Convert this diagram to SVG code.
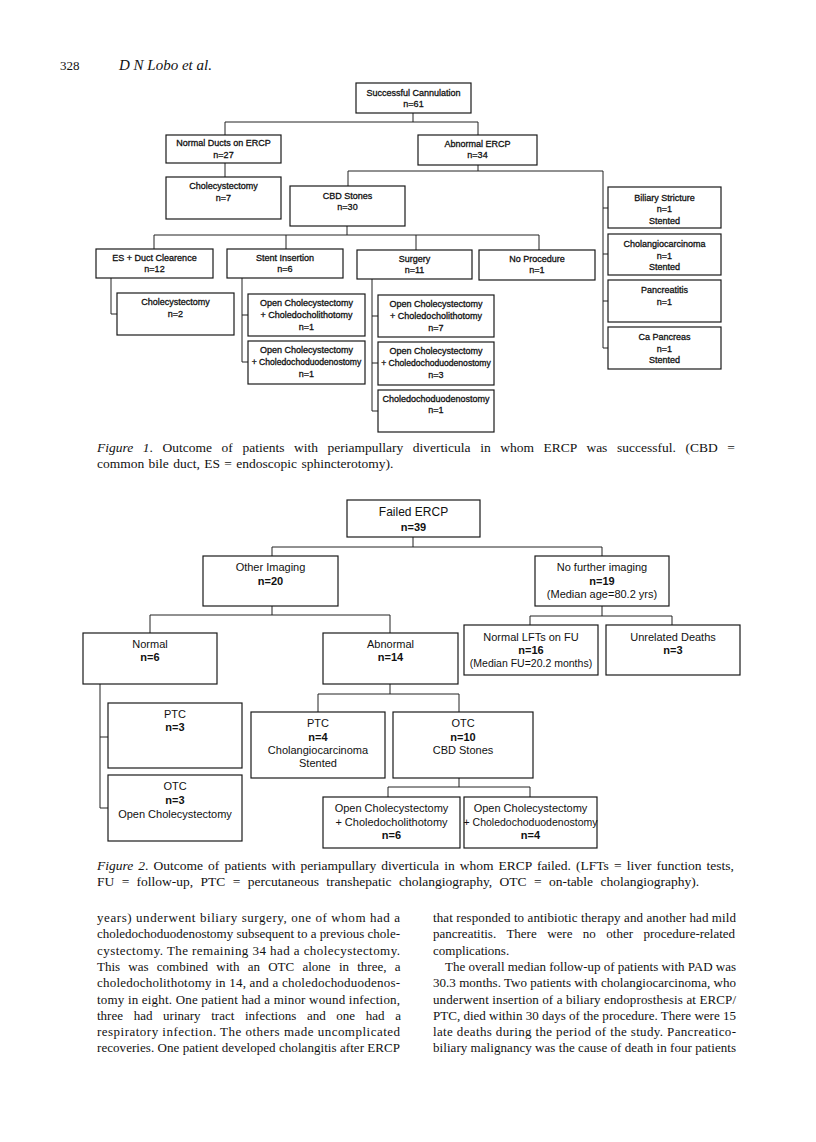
<svg xmlns="http://www.w3.org/2000/svg" width="816" height="1142" viewBox="0 0 816 1142">
<style>
.bx{fill:#fff;stroke:#1a1a1a;stroke-width:1.2}
.cn{fill:none;stroke:#222;stroke-width:1}
.t1{font-family:"Liberation Sans",Arial,sans-serif;font-size:9px;text-anchor:middle;fill:#111;stroke:#111;stroke-width:0.3}
.t2{font-family:"Liberation Sans",Arial,sans-serif;font-size:11px;text-anchor:middle;fill:#111}
.sm1{font-size:8.6px}
.sm2{font-size:10.5px}
.nb{font-weight:bold}
.ser{font-family:"Liberation Serif","Times New Roman",serif;font-size:13px;fill:#111}
.cap{font-size:13.5px}
.it{font-style:italic}
</style>
<rect width="816" height="1142" fill="#fff"/>
<text class="ser" x="60" y="70">328</text>
<text class="ser it" x="119" y="70" style="font-size:15px">D N Lobo et al.</text>

<g id="connectors">
<path class="cn" d="M413,113 V122 M225,122 H478 M225,122 V135 M478,122 V135"/>
<path class="cn" d="M225,163 V177"/>
<path class="cn" d="M478,165 V171 M348,171 H603 M348,171 V186 M603,171 V348 M603,208 H608 M603,254 H608 M603,301 H608 M603,348 H608"/>
<path class="cn" d="M347,226 V235 M154,235 H539 M154,235 V249 M286,235 V249 M416,235 V250 M539,235 V250"/>
<path class="cn" d="M111,278 V314 H117"/>
<path class="cn" d="M242,278 V362 M242,315 H248 M242,362 H248"/>
<path class="cn" d="M372,279 V411 M372,316 H378 M372,363 H378 M372,411 H378"/>
<path class="cn" d="M413,537 V547 M272,547 H602 M272,547 V556 M602,547 V556"/>
<path class="cn" d="M602,606 V616 M530,616 H672 M530,616 V625 M672,616 V625"/>
<path class="cn" d="M272,606 V615 M150,615 H390 M150,615 V633 M390,615 V633"/>
<path class="cn" d="M100,684 V808 M100,737 H108 M100,808 H108"/>
<path class="cn" d="M390,684 V694 M318,694 H459 M318,694 V712 M459,694 V712"/>
<path class="cn" d="M459,778 V787 M388,787 H530 M388,787 V797 M530,787 V797"/>
</g>

<g id="n-success"><rect class="bx" x="356" y="83" width="115" height="30"/><text class="t1" x="413.5" y="95.5">Successful Cannulation</text><text class="t1" x="413.5" y="107">n=61</text></g>
<g id="n-normalducts"><rect class="bx" x="166" y="135" width="115" height="28"/><text class="t1" x="223.5" y="146">Normal Ducts on ERCP</text><text class="t1" x="223.5" y="157.5">n=27</text></g>
<g id="n-abnormal"><rect class="bx" x="418" y="135" width="119" height="30"/><text class="t1" x="477.5" y="146.5">Abnormal ERCP</text><text class="t1" x="477.5" y="158">n=34</text></g>
<g id="n-chole7"><rect class="bx" x="166" y="177" width="115" height="42"/><text class="t1" x="223.5" y="189">Cholecystectomy</text><text class="t1" x="223.5" y="201">n=7</text></g>
<g id="n-cbd"><rect class="bx" x="290" y="186" width="115" height="40"/><text class="t1" x="347.5" y="198.5">CBD Stones</text><text class="t1" x="347.5" y="210">n=30</text></g>
<g id="n-biliary"><rect class="bx" x="608" y="187" width="113" height="41"/><text class="t1" x="664.5" y="200.5">Biliary Stricture</text><text class="t1" x="664.5" y="212">n=1</text><text class="t1" x="664.5" y="223.5">Stented</text></g>
<g id="n-cholangio"><rect class="bx" x="608" y="234" width="113" height="41"/><text class="t1" x="664.5" y="247">Cholangiocarcinoma</text><text class="t1" x="664.5" y="258.5">n=1</text><text class="t1" x="664.5" y="270">Stented</text></g>
<g id="n-pancreatitis"><rect class="bx" x="608" y="280" width="113" height="42"/><text class="t1" x="664.5" y="293">Pancreatitis</text><text class="t1" x="664.5" y="304.5">n=1</text></g>
<g id="n-capancreas"><rect class="bx" x="608" y="327" width="113" height="42"/><text class="t1" x="664.5" y="340">Ca Pancreas</text><text class="t1" x="664.5" y="351.5">n=1</text><text class="t1" x="664.5" y="363">Stented</text></g>
<g id="n-es"><rect class="bx" x="96" y="249" width="117" height="29"/><text class="t1" x="154.5" y="260.5">ES + Duct Clearence</text><text class="t1" x="154.5" y="272">n=12</text></g>
<g id="n-stent"><rect class="bx" x="227" y="249" width="116" height="29"/><text class="t1" x="285" y="260.5">Stent Insertion</text><text class="t1" x="285" y="272">n=6</text></g>
<g id="n-surgery"><rect class="bx" x="357" y="250" width="115" height="29"/><text class="t1" x="414.5" y="261.5">Surgery</text><text class="t1" x="414.5" y="273">n=11</text></g>
<g id="n-noproc"><rect class="bx" x="479" y="250" width="116" height="30"/><text class="t1" x="537" y="261.5">No Procedure</text><text class="t1" x="537" y="273">n=1</text></g>
<g id="n-chole2"><rect class="bx" x="117" y="293" width="117" height="42"/><text class="t1" x="175.5" y="305">Cholecystectomy</text><text class="t1" x="175.5" y="317">n=2</text></g>
<g id="n-stent-a"><rect class="bx" x="248" y="294" width="117" height="42"/><text class="t1" x="306.5" y="306">Open Cholecystectomy</text><text class="t1" x="306.5" y="318">+ Choledocholithotomy</text><text class="t1" x="306.5" y="330">n=1</text></g>
<g id="n-stent-b"><rect class="bx" x="248" y="341" width="117" height="43"/><text class="t1" x="306.5" y="353">Open Cholecystectomy</text><text class="t1 sm1" x="306.5" y="365">+ Choledochoduodenostomy</text><text class="t1" x="306.5" y="377">n=1</text></g>
<g id="n-surg-a"><rect class="bx" x="378" y="295" width="116" height="42"/><text class="t1" x="436" y="307">Open Cholecystectomy</text><text class="t1" x="436" y="319">+ Choledocholithotomy</text><text class="t1" x="436" y="331">n=7</text></g>
<g id="n-surg-b"><rect class="bx" x="378" y="342" width="116" height="43"/><text class="t1" x="436" y="354">Open Cholecystectomy</text><text class="t1 sm1" x="436" y="366">+ Choledochoduodenostomy</text><text class="t1" x="436" y="378">n=3</text></g>
<g id="n-surg-c"><rect class="bx" x="378" y="390" width="116" height="42"/><text class="t1" x="436" y="401.5">Choledochoduodenostomy</text><text class="t1" x="436" y="413">n=1</text></g>

<text class="ser cap" x="97" y="452" word-spacing="6.2"><tspan class="it">Figure 1</tspan>. Outcome of patients with periampullary diverticula in whom ERCP was successful. (CBD =</text>
<text class="ser cap" x="97" y="468" word-spacing="1">common bile duct, ES = endoscopic sphincterotomy).</text>

<g id="n-failed"><rect class="bx" x="347" y="500" width="133" height="37"/><text class="t2" x="413.5" y="516" style="font-size:12px">Failed ERCP</text><text class="t2 nb" x="413.5" y="530.5">n=39</text></g>
<g id="n-other"><rect class="bx" x="203" y="556" width="135" height="50"/><text class="t2" x="270.5" y="570.5">Other Imaging</text><text class="t2 nb" x="270.5" y="584.5">n=20</text></g>
<g id="n-nofurther"><rect class="bx" x="535" y="556" width="134" height="50"/><text class="t2" x="602" y="571">No further imaging</text><text class="t2 nb" x="602" y="584.5">n=19</text><text class="t2" x="602" y="597.5">(Median age=80.2 yrs)</text></g>
<g id="n-lfts"><rect class="bx" x="464" y="625" width="134" height="50"/><text class="t2" x="531" y="640.5">Normal LFTs on FU</text><text class="t2 nb" x="531" y="653.5">n=16</text><text class="t2 sm2" x="531" y="666.5">(Median FU=20.2 months)</text></g>
<g id="n-deaths"><rect class="bx" x="606" y="625" width="134" height="50"/><text class="t2" x="673" y="640.5">Unrelated Deaths</text><text class="t2 nb" x="673" y="653.5">n=3</text></g>
<g id="n-normal"><rect class="bx" x="83" y="633" width="134" height="51"/><text class="t2" x="150" y="648">Normal</text><text class="t2 nb" x="150" y="661">n=6</text></g>
<g id="n-abn2"><rect class="bx" x="323" y="633" width="135" height="51"/><text class="t2" x="390.5" y="648">Abnormal</text><text class="t2 nb" x="390.5" y="661">n=14</text></g>
<g id="n-ptc1"><rect class="bx" x="108" y="703" width="134" height="65"/><text class="t2" x="175" y="718">PTC</text><text class="t2 nb" x="175" y="731">n=3</text></g>
<g id="n-otc1"><rect class="bx" x="108" y="775" width="134" height="66"/><text class="t2" x="175" y="789.5">OTC</text><text class="t2 nb" x="175" y="803.5">n=3</text><text class="t2" x="175" y="817.5">Open Cholecystectomy</text></g>
<g id="n-ptc2"><rect class="bx" x="251" y="712" width="134" height="66"/><text class="t2" x="318" y="727">PTC</text><text class="t2 nb" x="318" y="740.5">n=4</text><text class="t2" x="318" y="754">Cholangiocarcinoma</text><text class="t2" x="318" y="767">Stented</text></g>
<g id="n-otc2"><rect class="bx" x="393" y="712" width="140" height="66"/><text class="t2" x="463" y="727">OTC</text><text class="t2 nb" x="463" y="740.5">n=10</text><text class="t2" x="463" y="754">CBD Stones</text></g>
<g id="n-otc-a"><rect class="bx" x="323" y="797" width="137" height="51"/><text class="t2" x="391.5" y="812">Open Cholecystectomy</text><text class="t2" x="391.5" y="825.5">+ Choledocholithotomy</text><text class="t2 nb" x="391.5" y="839">n=6</text></g>
<g id="n-otc-b"><rect class="bx" x="464" y="797" width="133" height="51"/><text class="t2" x="530.5" y="812">Open Cholecystectomy</text><text class="t2 sm2" x="530.5" y="825.5">+ Choledochoduodenostomy</text><text class="t2 nb" x="530.5" y="839">n=4</text></g>

<text class="ser cap" x="97" y="870" word-spacing="1.7"><tspan class="it">Figure 2</tspan>. Outcome of patients with periampullary diverticula in whom ERCP failed. (LFTs = liver function tests,</text>
<text class="ser cap" x="97" y="886" word-spacing="4">FU = follow-up, PTC = percutaneous transhepatic cholangiography, OTC = on-table cholangiography).</text>

<g class="ser">
<text x="97" y="922" textLength="303" lengthAdjust="spacing">years) underwent biliary surgery, one of whom had a</text>
<text x="97" y="938.3" textLength="303" lengthAdjust="spacing">choledochoduodenostomy subsequent to a previous chole-</text>
<text x="97" y="954.6" textLength="303" lengthAdjust="spacing">cystectomy. The remaining 34 had a cholecystectomy.</text>
<text x="97" y="970.9" word-spacing="5.0">This was combined with an OTC alone in three, a</text>
<text x="97" y="987.2" textLength="303" lengthAdjust="spacing">choledocholithotomy in 14, and a choledochoduodenos-</text>
<text x="97" y="1003.5" textLength="303" lengthAdjust="spacing">tomy in eight. One patient had a minor wound infection,</text>
<text x="97" y="1019.8" word-spacing="7.4">three had urinary tract infections and one had a</text>
<text x="97" y="1036.1" textLength="303" lengthAdjust="spacing">respiratory infection. The others made uncomplicated</text>
<text x="97" y="1052.4" textLength="303" lengthAdjust="spacing">recoveries. One patient developed cholangitis after ERCP</text>
<text x="433" y="922" textLength="303" lengthAdjust="spacing">that responded to antibiotic therapy and another had mild</text>
<text x="433" y="938.3" word-spacing="7.2">pancreatitis. There were no other procedure-related</text>
<text x="433" y="954.6">complications.</text>
<text x="445" y="970.9" textLength="291" lengthAdjust="spacing">The overall median follow-up of patients with PAD was</text>
<text x="433" y="987.2" textLength="303" lengthAdjust="spacing">30.3 months. Two patients with cholangiocarcinoma, who</text>
<text x="433" y="1003.5" textLength="303" lengthAdjust="spacing">underwent insertion of a biliary endoprosthesis at ERCP/</text>
<text x="433" y="1019.8" textLength="303" lengthAdjust="spacing">PTC, died within 30 days of the procedure. There were 15</text>
<text x="433" y="1036.1" textLength="303" lengthAdjust="spacing">late deaths during the period of the study. Pancreatico-</text>
<text x="433" y="1052.4" textLength="303" lengthAdjust="spacing">biliary malignancy was the cause of death in four patients</text>
</g>
</svg>
